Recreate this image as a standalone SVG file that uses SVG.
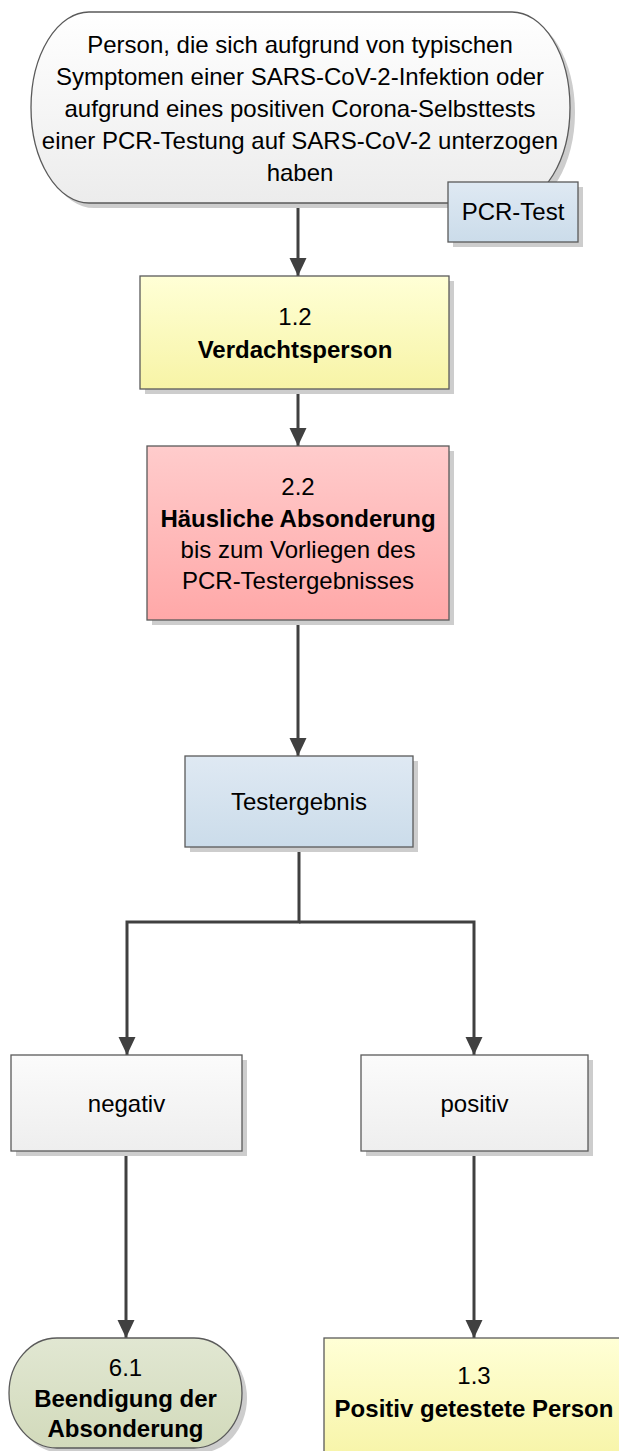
<svg xmlns="http://www.w3.org/2000/svg" width="619" height="1451" viewBox="0 0 619 1451">
<defs>
<style>
text{font-family:"Liberation Sans",Arial,sans-serif;font-size:24px;fill:#000;text-anchor:middle}
.b{font-weight:bold}
.node{stroke:#5a5a5a;stroke-width:1.3}
.sh{fill:#cdcdcd}
.conn{fill:none;stroke:#404040;stroke-width:3}
</style>
<linearGradient id="gGray" x1="0" y1="0" x2="0" y2="1"><stop offset="0" stop-color="#ffffff"/><stop offset="1" stop-color="#ececec"/></linearGradient>
<linearGradient id="gBlue" x1="0" y1="0" x2="0" y2="1"><stop offset="0" stop-color="#dfe9f3"/><stop offset="1" stop-color="#cbdcea"/></linearGradient>
<linearGradient id="gYel" x1="0" y1="0" x2="0" y2="1"><stop offset="0" stop-color="#ffffd6"/><stop offset="1" stop-color="#f7f4a6"/></linearGradient>
<linearGradient id="gRed" x1="0" y1="0" x2="0" y2="1"><stop offset="0" stop-color="#ffcccc"/><stop offset="1" stop-color="#ffa8a8"/></linearGradient>
<linearGradient id="gWhite" x1="0" y1="0" x2="0" y2="1"><stop offset="0" stop-color="#fbfbfb"/><stop offset="1" stop-color="#eeeeee"/></linearGradient>
<linearGradient id="gGreen" x1="0" y1="0" x2="0" y2="1"><stop offset="0" stop-color="#e1e7d2"/><stop offset="1" stop-color="#d2dabb"/></linearGradient>
<marker id="arr" markerUnits="userSpaceOnUse" markerWidth="20" markerHeight="20" viewBox="0 0 20 20" refX="18" refY="10" orient="auto">
<path d="M0,1.5 L18,10 L0,18.5 Z" fill="#404040"/>
</marker>
</defs>

<g id="connectors">
<path class="conn" d="M298,203 V276" marker-end="url(#arr)"/>
<path class="conn" d="M298,389 V446" marker-end="url(#arr)"/>
<path class="conn" d="M298,620 V756" marker-end="url(#arr)"/>
<path class="conn" d="M299,847 V922 H127 V1055" marker-end="url(#arr)"/>
<path class="conn" d="M299,922 H474 V1055" marker-end="url(#arr)"/>
<path class="conn" d="M126,1151 V1338" marker-end="url(#arr)"/>
<path class="conn" d="M474,1151 V1338" marker-end="url(#arr)"/>
</g>

<g id="start">
<rect class="sh" x="36" y="17" width="539" height="191" rx="58" ry="95.5"/>
<rect class="node" x="31" y="12" width="539" height="191" rx="58" ry="95.5" fill="url(#gGray)"/>
<text x="300" y="53">Person, die sich aufgrund von typischen</text>
<text x="300" y="85">Symptomen einer SARS-CoV-2-Infektion oder</text>
<text x="300" y="117">aufgrund eines positiven Corona-Selbsttests</text>
<text x="300" y="149">einer PCR-Testung auf SARS-CoV-2 unterzogen</text>
<text x="300" y="181">haben</text>
</g>

<g id="pcrtest">
<rect class="sh" x="453" y="187" width="130" height="60"/>
<rect class="node" x="448" y="182" width="130" height="60" fill="url(#gBlue)"/>
<text x="513" y="220">PCR-Test</text>
</g>

<g id="n12">
<rect class="sh" x="145" y="281" width="309" height="113"/>
<rect class="node" x="140" y="276" width="309" height="113" fill="url(#gYel)"/>
<text x="295" y="325">1.2</text>
<text class="b" x="295" y="358">Verdachtsperson</text>
</g>

<g id="n22">
<rect class="sh" x="152" y="451" width="302" height="174"/>
<rect class="node" x="147" y="446" width="302" height="174" fill="url(#gRed)"/>
<text x="298" y="495">2.2</text>
<text class="b" x="298" y="527">Häusliche Absonderung</text>
<text x="298" y="558">bis zum Vorliegen des</text>
<text x="298" y="589">PCR-Testergebnisses</text>
</g>

<g id="testergebnis">
<rect class="sh" x="190" y="761" width="228" height="91"/>
<rect class="node" x="185" y="756" width="228" height="91" fill="url(#gBlue)"/>
<text x="299" y="810">Testergebnis</text>
</g>

<g id="negativ">
<rect class="sh" x="16" y="1060" width="231" height="96"/>
<rect class="node" x="11" y="1055" width="231" height="96" fill="url(#gWhite)"/>
<text x="126.5" y="1112">negativ</text>
</g>

<g id="positiv">
<rect class="sh" x="366" y="1060" width="227" height="96"/>
<rect class="node" x="361" y="1055" width="227" height="96" fill="url(#gWhite)"/>
<text x="474.5" y="1112">positiv</text>
</g>

<g id="n61">
<rect class="sh" x="14" y="1343" width="233" height="110" rx="48" ry="55"/>
<rect class="node" x="9" y="1338" width="233" height="110" rx="48" ry="55" fill="url(#gGreen)"/>
<text x="125.5" y="1376">6.1</text>
<text class="b" x="125.5" y="1407">Beendigung der</text>
<text class="b" x="125.5" y="1437">Absonderung</text>
</g>

<g id="n13">
<rect class="node" x="324" y="1338" width="300" height="125" fill="url(#gYel)"/>
<text x="474" y="1384">1.3</text>
<text class="b" x="474" y="1417">Positiv getestete Person</text>
</g>
</svg>
